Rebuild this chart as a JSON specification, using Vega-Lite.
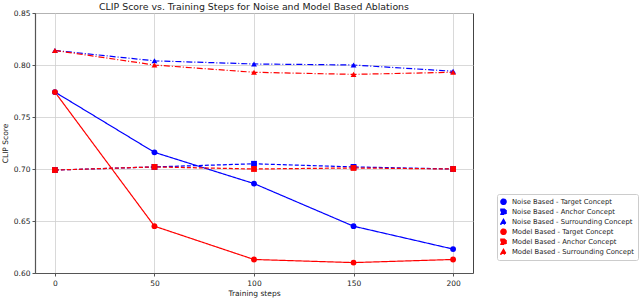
{
  "$schema": "https://vega.github.io/schema/vega-lite/v6.json",
  "autosize": {"type": "none"},
  "padding": {"left": 35, "top": 13, "right": 167, "bottom": 25},
  "width": 438,
  "height": 260,
  "title": {"text": "CLIP Score vs. Training Steps for Noise and Model Based Ablations", "font": "DejaVu Sans", "fontSize": 9.4, "fontWeight": "normal", "color": "#222", "offset": -3, "anchor": "middle"},
  "config": {
    "view": {"stroke": "#444", "strokeWidth": 1},
    "font": "DejaVu Sans",
    "axis": {"labelFont": "DejaVu Sans", "labelFontSize": 7.5, "labelColor": "#222", "titleFont": "DejaVu Sans", "titleFontSize": 7.5, "titleFontWeight": "normal", "titleColor": "#222", "gridColor": "#cfcfcf", "gridWidth": 0.8, "domainColor": "#555", "domainWidth": 1.2, "tickColor": "#555", "tickSize": 3}
  },
  "data": {"values": [
    {"step": 0, "score": 0.774, "series": "Noise Based - Target Concept"},
    {"step": 50, "score": 0.716, "series": "Noise Based - Target Concept"},
    {"step": 100, "score": 0.686, "series": "Noise Based - Target Concept"},
    {"step": 150, "score": 0.645, "series": "Noise Based - Target Concept"},
    {"step": 200, "score": 0.623, "series": "Noise Based - Target Concept"},
    {"step": 0, "score": 0.699, "series": "Noise Based - Anchor Concept"},
    {"step": 50, "score": 0.702, "series": "Noise Based - Anchor Concept"},
    {"step": 100, "score": 0.705, "series": "Noise Based - Anchor Concept"},
    {"step": 150, "score": 0.702, "series": "Noise Based - Anchor Concept"},
    {"step": 200, "score": 0.700, "series": "Noise Based - Anchor Concept"},
    {"step": 0, "score": 0.814, "series": "Noise Based - Surrounding Concept"},
    {"step": 50, "score": 0.804, "series": "Noise Based - Surrounding Concept"},
    {"step": 100, "score": 0.801, "series": "Noise Based - Surrounding Concept"},
    {"step": 150, "score": 0.800, "series": "Noise Based - Surrounding Concept"},
    {"step": 200, "score": 0.794, "series": "Noise Based - Surrounding Concept"},
    {"step": 0, "score": 0.774, "series": "Model Based - Target Concept"},
    {"step": 50, "score": 0.645, "series": "Model Based - Target Concept"},
    {"step": 100, "score": 0.613, "series": "Model Based - Target Concept"},
    {"step": 150, "score": 0.610, "series": "Model Based - Target Concept"},
    {"step": 200, "score": 0.613, "series": "Model Based - Target Concept"},
    {"step": 0, "score": 0.699, "series": "Model Based - Anchor Concept"},
    {"step": 50, "score": 0.702, "series": "Model Based - Anchor Concept"},
    {"step": 100, "score": 0.700, "series": "Model Based - Anchor Concept"},
    {"step": 150, "score": 0.701, "series": "Model Based - Anchor Concept"},
    {"step": 200, "score": 0.700, "series": "Model Based - Anchor Concept"},
    {"step": 0, "score": 0.814, "series": "Model Based - Surrounding Concept"},
    {"step": 50, "score": 0.800, "series": "Model Based - Surrounding Concept"},
    {"step": 100, "score": 0.793, "series": "Model Based - Surrounding Concept"},
    {"step": 150, "score": 0.791, "series": "Model Based - Surrounding Concept"},
    {"step": 200, "score": 0.793, "series": "Model Based - Surrounding Concept"}
  ]},
  "encoding": {
    "x": {"field": "step", "type": "quantitative", "title": "Training steps", "scale": {"domain": [-10, 210], "nice": false, "zero": false}, "axis": {"values": [0, 50, 100, 150, 200], "titlePadding": 3, "labelPadding": 3}},
    "y": {"field": "score", "type": "quantitative", "title": "CLIP Score", "scale": {"domain": [0.6, 0.85], "nice": false, "zero": false}, "axis": {"values": [0.6, 0.65, 0.7, 0.75, 0.8, 0.85], "format": ".2f", "titlePadding": 4}},
    "color": {"field": "series", "type": "nominal", "title": null,
      "scale": {"domain": ["Noise Based - Target Concept", "Noise Based - Anchor Concept", "Noise Based - Surrounding Concept", "Model Based - Target Concept", "Model Based - Anchor Concept", "Model Based - Surrounding Concept"],
                "range": ["#0000ff", "#0000ff", "#0000ff", "#ff0000", "#ff0000", "#ff0000"]},
      "legend": {"orient": "none", "legendX": 462, "legendY": 181, "strokeColor": "#cccccc", "cornerRadius": 2, "padding": 3, "labelFontSize": 6.8, "labelColor": "#222", "labelFont": "DejaVu Sans", "symbolSize": 26, "labelOffset": 5, "rowPadding": 0, "clipHeight": 9.5, "labelLimit": 200, "fillColor": "white"}}
  },
  "layer": [
    {
      "mark": {"type": "line", "strokeWidth": 1.2},
      "encoding": {
        "strokeDash": {"field": "series", "type": "nominal", "title": null,
          "scale": {"domain": ["Noise Based - Target Concept", "Noise Based - Anchor Concept", "Noise Based - Surrounding Concept", "Model Based - Target Concept", "Model Based - Anchor Concept", "Model Based - Surrounding Concept"],
                    "range": [[1, 0], [4, 2], [6, 2, 1, 2], [1, 0], [4, 2], [6, 2, 1, 2]]}}
      }
    },
    {
      "mark": {"type": "point", "filled": true, "opacity": 1, "size": 34},
      "encoding": {
        "shape": {"field": "series", "type": "nominal", "title": null,
          "scale": {"domain": ["Noise Based - Target Concept", "Noise Based - Anchor Concept", "Noise Based - Surrounding Concept", "Model Based - Target Concept", "Model Based - Anchor Concept", "Model Based - Surrounding Concept"],
                    "range": ["circle", "square", "triangle-up", "circle", "square", "triangle-up"]}}
      }
    }
  ]
}
